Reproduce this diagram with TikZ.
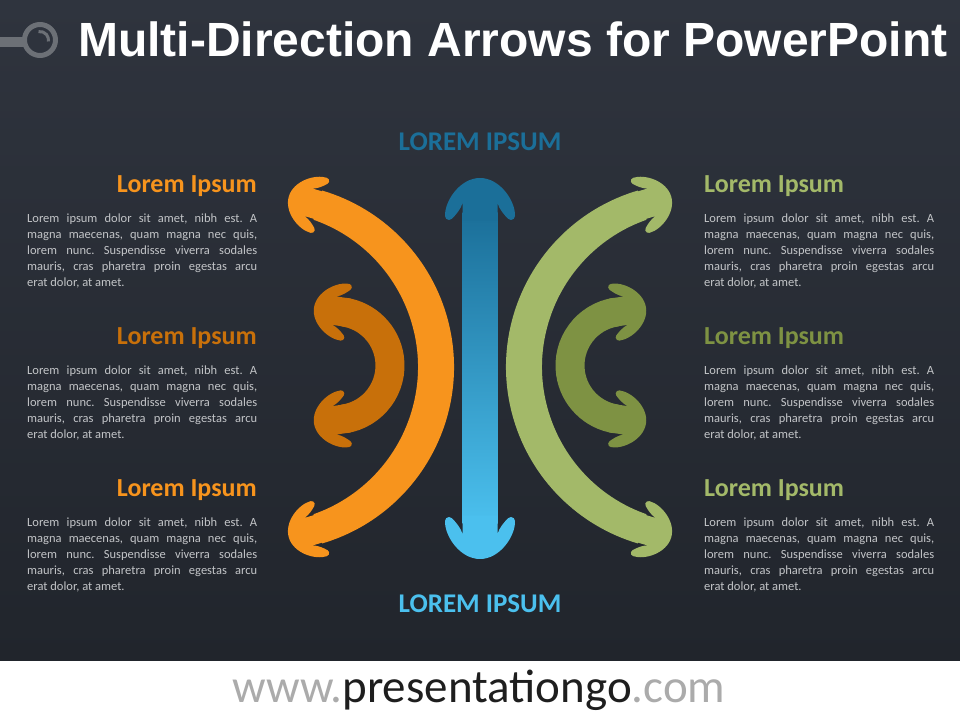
\documentclass[tikz,border=0pt]{standalone}
\usepackage{fontspec}
\setmainfont{Carlito}
\newfontfamily\titlefont{Liberation Sans}
\frenchspacing
\definecolor{bgtop}{HTML}{2F343E}
\definecolor{bgbot}{HTML}{21252C}
\definecolor{orangeA}{HTML}{F7941D}
\definecolor{orangeB}{HTML}{C8700A}
\definecolor{greenA}{HTML}{A3B969}
\definecolor{greenB}{HTML}{7E9243}
\definecolor{blueD}{HTML}{1B6F99}
\definecolor{blueL}{HTML}{4BC0EE}
\definecolor{bodygray}{HTML}{C3C5C8}
\definecolor{icongray}{HTML}{6C7076}
\definecolor{footgray}{HTML}{ABABAB}
\definecolor{footdark}{HTML}{1E1E1E}
\newcommand\loremblock[3]{%
  \node[body] (#1-1) at ({#2},{#3}) {\makebox[230pt][s]{Lorem ipsum dolor sit amet, nibh est. A}};
  \node[body] (#1-2) at ({#2},{#3-16}) {\makebox[230pt][s]{magna maecenas, quam magna nec quis,}};
  \node[body] (#1-3) at ({#2},{#3-32}) {\makebox[230pt][s]{lorem nunc. Suspendisse viverra sodales}};
  \node[body] (#1-4) at ({#2},{#3-48}) {\makebox[230pt][s]{mauris, cras pharetra proin egestas arcu}};
  \node[body] (#1-5) at ({#2},{#3-64}) {erat dolor, at amet.};
}
\begin{document}
\begin{tikzpicture}[x=1pt,y=1pt,
  head/.pic={\fill[#1] (12,17.5) .. controls (6,19) and (-0.5,24.7) .. (-3.83,28.17)
     arc[start angle=225,end angle=90,radius=4]
     .. controls (14,35.5) and (37,20) .. (37,0)
     .. controls (37,-20) and (14,-35.5) .. (-1,-35)
     arc[start angle=-90,end angle=-225,radius=4]
     .. controls (-0.5,-24.7) and (6,-19) .. (12,-17.5) -- (-6,-17.5) -- (-6,17.5) -- cycle;},
  body/.style={anchor=base west, inner sep=0, text=bodygray, font=\fontsize{12.5}{16}\selectfont},
  hleft/.style={anchor=base east, inner sep=0, font=\fontsize{26}{30}\selectfont\bfseries},
  hright/.style={anchor=base west, inner sep=0, font=\fontsize{26}{30}\selectfont\bfseries},
  lab/.style={anchor=base, inner sep=0, font=\fontsize{27}{30}\selectfont\bfseries},
  title/.style={anchor=base west, inner sep=0, text=white, font=\titlefont\fontsize{48}{52}\selectfont\bfseries}
]
\useasboundingbox (0,0) rectangle (960,720);
% background
\shade[top color=bgtop, bottom color=bgbot] (0,59) rectangle (960,720);
\fill[white] (0,0) rectangle (960,59);
% icon
\fill[icongray] (0,673.3) rectangle (24,683);
\draw[icongray, line width=5] (40,680) circle[radius=15.5];
\draw[icongray, line width=3] (40,680) ++(100:8.5) arc[start angle=100, end angle=-10, radius=8.5];
% title
\node[title] (title) at (78,663) {Multi-Direction Arrows for PowerPoint};

% blue vertical arrow
\shade[top color=blueD, middle color=blueL, bottom color=blueL] (462.5,196) rectangle (497.5,507);
\pic[rotate=90] at (480,505) {head=blueD};
\pic[rotate=-90] at (480,198) {head=blueL};

% orange big arc
\fill[orangeA] ([shift={(270,353)}]-73.5:184) arc[start angle=-73.5, end angle=73.5, radius=184]
  -- ([shift={(262,353)}]70.7:156) arc[start angle=70.7, end angle=-70.7, radius=156] -- cycle;
\pic[rotate=163.5, scale=0.82] at (317.9,514.9) {head=orangeA};
\pic[rotate=196.5, scale=0.82] at (317.9,191.1) {head=orangeA};

% green big arc
\fill[greenA] ([shift={(690,353)}]106.5:184) arc[start angle=106.5, end angle=253.5, radius=184]
  -- ([shift={(698,353)}]250.7:156) arc[start angle=250.7, end angle=109.3, radius=156] -- cycle;
\pic[rotate=16.5, scale=0.82] at (642.1,514.9) {head=greenA};
\pic[rotate=-16.5, scale=0.82] at (642.1,191.1) {head=greenA};

% dark orange small arc
\draw[orangeB, line width=29] ([shift={(336,354.5)}]-81.5:54) arc[start angle=-81.5, end angle=81.5, radius=54];
\pic[rotate=171.5, scale=0.82] at (344,407.9) {head=orangeB};
\pic[rotate=188.5, scale=0.82] at (344,301.1) {head=orangeB};

% olive small arc
\draw[greenB, line width=29] ([shift={(624,354.5)}]98.5:54) arc[start angle=98.5, end angle=261.5, radius=54];
\pic[rotate=8.5, scale=0.82] at (616,407.9) {head=greenB};
\pic[rotate=-8.5, scale=0.82] at (616,301.1) {head=greenB};

% labels
\node[lab, text=blueD] (toplab) at (480,569.5) {LOREM IPSUM};
\node[lab, text=blueL] (botlab) at (480,107.5) {LOREM IPSUM};

% left column
\node[hleft, text=orangeA] (hl1) at (257,527.3) {Lorem Ipsum};
\node[hleft, text=orangeB] (hl2) at (257,375.3) {Lorem Ipsum};
\node[hleft, text=orangeA] (hl3) at (257,223.3) {Lorem Ipsum};
\loremblock{bl1}{27}{497.5}
\loremblock{bl2}{27}{345.5}
\loremblock{bl3}{27}{193.5}

% right column
\node[hright, text=greenA] (hr1) at (704,527.3) {Lorem Ipsum};
\node[hright, text=greenB] (hr2) at (704,375.3) {Lorem Ipsum};
\node[hright, text=greenA] (hr3) at (704,223.3) {Lorem Ipsum};
\loremblock{br1}{704}{497.5}
\loremblock{br2}{704}{345.5}
\loremblock{br3}{704}{193.5}

% footer
\node[anchor=base, inner sep=0, font=\fontsize{47}{50}\selectfont] (footer) at (479,17.3)
  {\textcolor{footgray}{www.}\textcolor{footdark}{presentationgo}\textcolor{footgray}{.com}};
\end{tikzpicture}
\end{document}
